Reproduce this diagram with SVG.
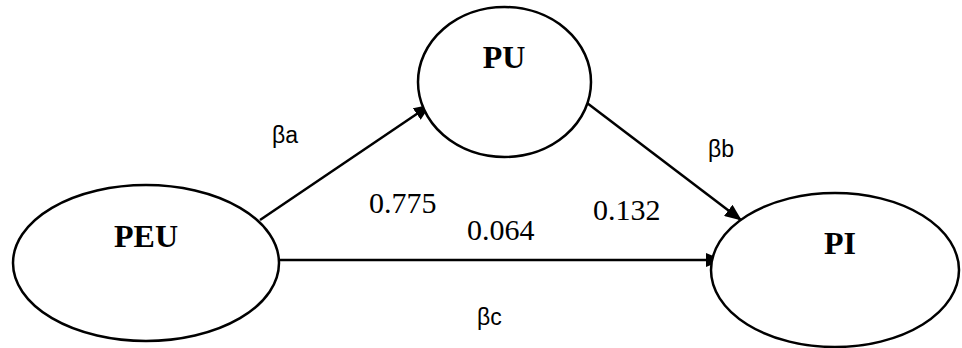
<svg xmlns="http://www.w3.org/2000/svg" width="962" height="348" viewBox="0 0 962 348">
<style>
.node{fill:#fff;stroke:#000;stroke-width:2.5}
.nl{font-family:"Liberation Serif",serif;font-weight:bold;font-size:32px;text-anchor:middle;fill:#000}
.num{font-family:"Liberation Serif",serif;font-size:30px;fill:#000}
.beta{font-family:"Liberation Sans",sans-serif;font-size:23px;fill:#000}
.edge{stroke:#000;stroke-width:2.5;fill:none;marker-end:url(#ah)}
</style>
<defs>
<marker id="ah" markerUnits="userSpaceOnUse" markerWidth="17" markerHeight="14" refX="16" refY="7" orient="auto">
<path d="M0,0 L17,7 L0,14 z" fill="#000"/>
</marker>
</defs>
<rect width="962" height="348" fill="#fff"/>
<g id="edges">
<line class="edge" x1="260" y1="220" x2="430" y2="105"/>
<line class="edge" x1="566" y1="87" x2="741" y2="220"/>
<line class="edge" x1="279" y1="260" x2="722" y2="260"/>
</g>
<g id="PEU">
<ellipse class="node" cx="146" cy="263" rx="133" ry="78"/>
<text class="nl" x="146" y="247">PEU</text>
</g>
<g id="PU">
<ellipse class="node" cx="504.5" cy="82" rx="86.5" ry="75"/>
<text class="nl" x="504" y="68">PU</text>
</g>
<g id="PI">
<ellipse class="node" cx="835" cy="270" rx="124" ry="77"/>
<text class="nl" x="840" y="254">PI</text>
</g>
<g id="labels">
<text class="beta" x="272" y="143">βa</text>
<text class="beta" x="708" y="157">βb</text>
<text class="beta" x="477" y="325">βc</text>
<text class="num" x="369" y="213">0.775</text>
<text class="num" x="467" y="240">0.064</text>
<text class="num" x="593" y="220">0.132</text>
</g>
</svg>
